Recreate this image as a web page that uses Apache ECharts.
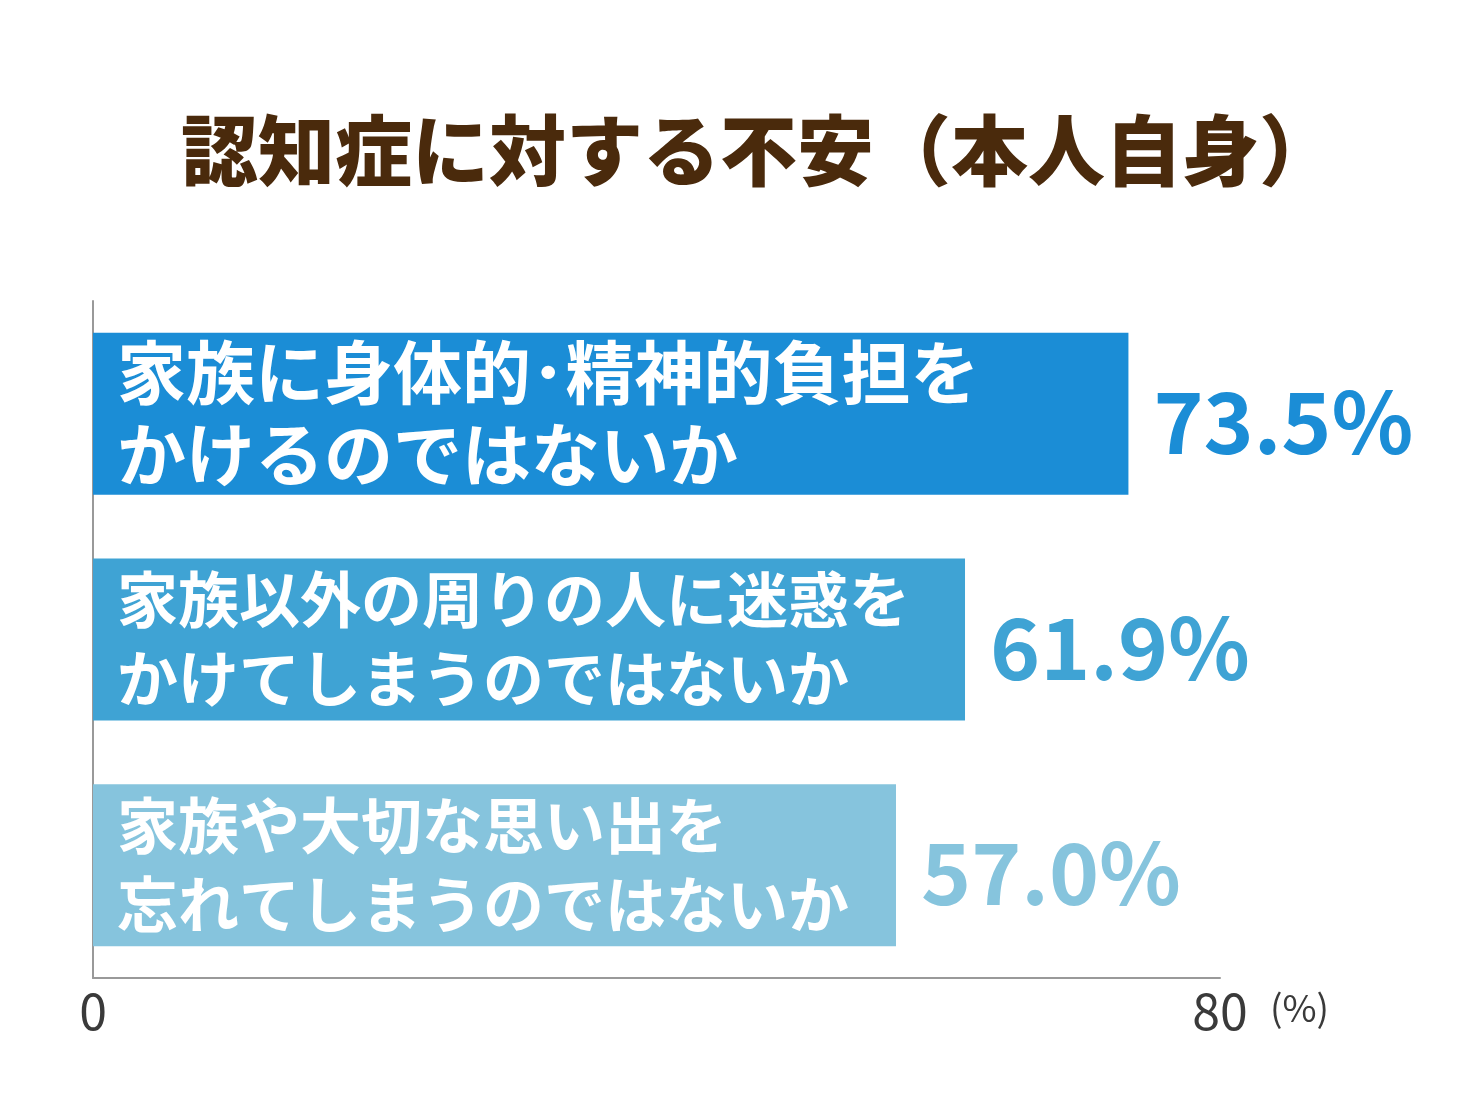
<!DOCTYPE html>
<html>
<head>
<meta charset="utf-8">
<script src="https://cdn.jsdelivr.net/npm/echarts@6/dist/echarts.min.js"></script>
<style>
  html, body { margin: 0; padding: 0; background: #fff; }
  #chart { width: 1481px; height: 1118px; }
</style>
</head>
<body>
<div id="chart"></div>
<script>
// データ
const categories = [
    "家族に身体的･精神的負担を\nかけるのではないか",
    "家族以外の周りの人に迷惑を\nかけてしまうのではないか",
    "家族や大切な思い出を\n忘れてしまうのではないか"
];
const values = [73.5, 61.9, 57.0];
const barColors = ["#1b8dd6", "#3fa3d4", "#86c4dd"];
const textSizes = [69, 61, 61];
const textLineHeights = [82, 79, 79];
const xTicks = [0, 80];

const FONT = '"Noto Sans CJK JP", "Noto Sans", sans-serif';

const chart = echarts.init(document.getElementById("chart"));

// 値ラベル付きの本体バー
const mainData = values.map((v, i) => ({
    value: v,
    itemStyle: { color: barColors[i] },
    label: { color: barColors[i] }
}));

// バー内の文字用（透明）
const textData = values.map((v, i) => ({
    value: v,
    label: {
        formatter: categories[i],
        fontSize: textSizes[i],
        lineHeight: textLineHeights[i]
    }
}));

chart.setOption({
    animation: false,
    title: {
        text: "認知症に対する不安（本人自身）",
        left: 176,
        top: 107,
        textStyle: {
            fontFamily: FONT,
            fontSize: 77,
            fontWeight: 900,
            color: "#4a2a0c"
        }
    },
    grid: { left: 93, right: 261, top: 301, bottom: 140 },
    xAxis: {
        type: "value",
        min: xTicks[0],
        max: xTicks[1],
        interval: xTicks[1] - xTicks[0],
        splitLine: { show: false },
        axisTick: { show: false },
        axisLine: { show: true, lineStyle: { color: "#999", width: 2 } },
        axisLabel: {
            margin: 8,
            fontFamily: FONT,
            fontSize: 50,
            color: "#3a3a3a"
        },
        name: "(%)",
        nameLocation: "end",
        nameGap: 50,
        nameTextStyle: {
            fontFamily: FONT,
            fontSize: 37,
            color: "#3a3a3a",
            verticalAlign: "top",
            padding: [11, 0, 0, 0]
        }
    },
    yAxis: {
        type: "category",
        inverse: true,
        data: categories,
        axisTick: { show: false },
        axisLabel: { show: false },
        axisLine: { show: true, lineStyle: { color: "#999", width: 2 } }
    },
    series: [
        {
            type: "bar",
            data: mainData,
            barWidth: 162,
            z: 2,
            label: {
                show: true,
                position: "right",
                distance: 25,
                offset: [0, 8],
                formatter: p => p.value.toFixed(1) + "%",
                fontFamily: FONT,
                fontSize: 85,
                fontWeight: "bold"
            }
        },
        {
            type: "bar",
            data: textData,
            barWidth: 162,
            barGap: "-100%",
            z: 3,
            itemStyle: { color: "rgba(0,0,0,0)" },
            label: {
                show: true,
                position: "insideLeft",
                distance: 24,
                align: "left",
                fontFamily: FONT,
                fontWeight: "bold",
                color: "#fff"
            }
        }
    ]
});
</script>
</body>
</html>
